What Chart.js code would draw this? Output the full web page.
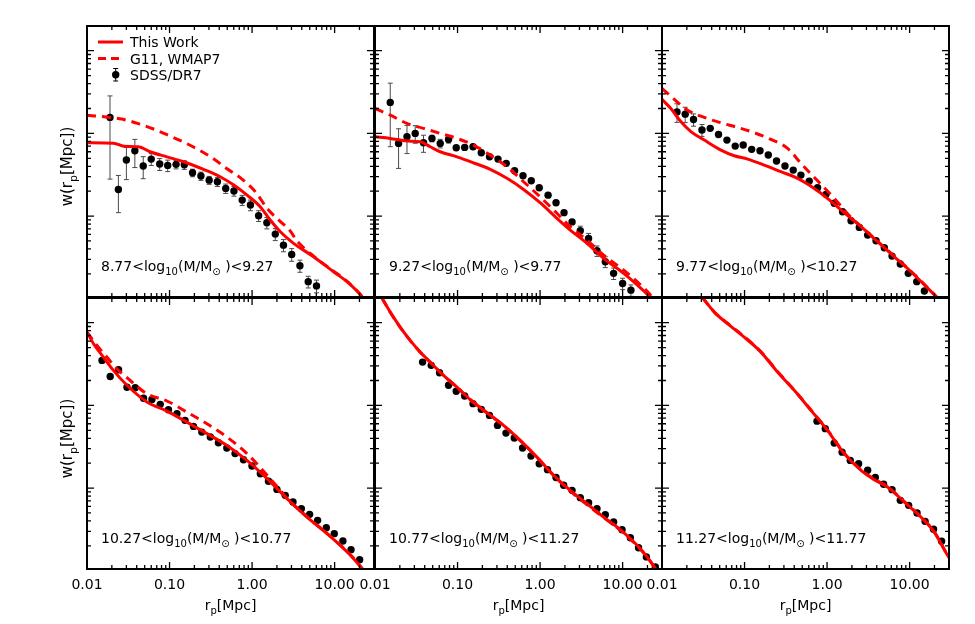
<!DOCTYPE html>
<html>
<head>
<meta charset="utf-8">
<script src="https://cdn.jsdelivr.net/npm/chart.js@4.4.1/dist/chart.umd.min.js"></script>
<style>
  html, body { margin: 0; padding: 0; background: #fff; }
  #wrap { position: relative; width: 975px; height: 624px; }
  #wrap canvas { position: absolute; left: 0; top: 0; }
</style>
</head>
<body>
<div id="wrap">
  <canvas id="c0" width="975" height="624"></canvas>
  <canvas id="c1" width="975" height="624"></canvas>
  <canvas id="c2" width="975" height="624"></canvas>
  <canvas id="c3" width="975" height="624"></canvas>
  <canvas id="c4" width="975" height="624"></canvas>
  <canvas id="c5" width="975" height="624"></canvas>
</div>
<script>
// axis ranges (log-log), same for all panels
const XMIN = 0.01, XMAX = 30;
const YMIN = 1.05, YMAX = 1990;

const massBins = [['8.77', '9.27'], ['9.27', '9.77'], ['9.77', '10.27'],
                  ['10.27', '10.77'], ['10.77', '11.27'], ['11.27', '11.77']];

// ---- SDSS/DR7 points: r_p, w, error ----
const p1R = [0.019, 0.024, 0.030, 0.038, 0.048, 0.060, 0.076, 0.095, 0.120, 0.151, 0.190, 0.240, 0.302, 0.380, 0.479, 0.603, 0.759, 0.955, 1.20, 1.51, 1.91, 2.40, 3.02, 3.80, 4.79, 6.03];
const p1W = [156, 21.0, 47.6, 61.6, 40.3, 48.9, 42.6, 41.0, 42.2, 41.7, 33.4, 30.5, 27.2, 26.0, 21.6, 20.1, 15.6, 13.6, 10.1, 8.3, 6.05, 4.45, 3.44, 2.51, 1.61, 1.43];
const p1E = [128, 10, 20, 23, 12, 8, 7, 6.5, 5, 5, 3.5, 3.5, 3, 3.2, 2.8, 2.7, 2.2, 2.0, 1.5, 1.3, 1.0, 0.75, 0.6, 0.42, 0.26, 0.25];

const p2R = [0.0153, 0.0193, 0.0244, 0.0307, 0.0387, 0.0490, 0.0617, 0.0778, 0.0964, 0.122, 0.154, 0.194, 0.244, 0.309, 0.389, 0.491, 0.621, 0.782, 0.977, 1.25, 1.56, 1.95, 2.44, 3.07, 3.87, 4.89, 6.17, 7.78, 10.0, 12.6];
const p2W = [237, 75.7, 91, 100, 77, 87, 75.7, 84.5, 67, 67.7, 68.9, 58.3, 52.1, 48.9, 43.4, 35.3, 30.7, 26.7, 22.0, 17.9, 14.5, 11.0, 8.5, 6.64, 5.37, 3.80, 2.80, 2.03, 1.53, 1.27];
const p2E = [168, 38, 34, 24, 18, 8, 9, 8, 4, 4, 4, 3, 3, 2.5, 2.2, 1.8, 1.5, 1.3, 1.1, 0.9, 0.75, 0.6, 0.5, 0.9, 0.8, 0.55, 0.42, 0.32, 0.24, 0.2];

const p3R = [0.0152, 0.0191, 0.0241, 0.0305, 0.0384, 0.0484, 0.0612, 0.0771, 0.0964, 0.122, 0.154, 0.194, 0.244, 0.309, 0.389, 0.482, 0.608, 0.767, 0.970, 1.22, 1.54, 1.95, 2.46, 3.10, 3.92, 4.93, 6.12, 7.71, 9.64, 12.2, 15.1];
const p3W = [182, 171, 147, 110, 115, 97, 83, 70.2, 72.3, 64.1, 61.6, 54.7, 46.3, 40.3, 36.0, 31.3, 26.5, 22.0, 18.3, 14.3, 11.3, 8.77, 7.29, 5.89, 5.02, 4.14, 3.28, 2.63, 2.03, 1.61, 1.24];
const p3E = [46, 36, 25, 18, 6, 4, 3, 2.5, 2.5, 2, 2, 1.6, 1.3, 1.1, 1.0, 0.8, 0.7, 0.6, 0.5, 0.4, 0.3, 0.25, 0.2, 0.17, 0.15, 0.13, 0.11, 0.09, 0.08, 0.07, 0.06];

const p4R = [0.0152, 0.0191, 0.0241, 0.0305, 0.0384, 0.0484, 0.0612, 0.0771, 0.0970, 0.123, 0.154, 0.195, 0.246, 0.312, 0.391, 0.494, 0.622, 0.787, 0.997, 1.26, 1.58, 2.00, 2.52, 3.13, 3.95, 4.98, 6.22, 7.93, 9.9, 12.6, 15.8, 20.1];
const p4W = [350, 224, 270, 166, 164, 122, 118, 103, 88.7, 79.4, 65.9, 55.7, 47.5, 41.4, 35.4, 30.5, 26.1, 22.0, 18.5, 14.9, 12.1, 9.64, 8.16, 6.78, 5.64, 4.81, 4.07, 3.32, 2.81, 2.29, 1.80, 1.36];
const p4E = [8, 5, 6, 3.5, 3, 2.2, 2, 1.7, 1.4, 1.2, 1.0, 0.8, 0.7, 0.6, 0.5, 0.45, 0.4, 0.35, 0.3, 0.25, 0.2, 0.17, 0.15, 0.13, 0.11, 0.1, 0.09, 0.08, 0.07, 0.06, 0.05, 0.04];

const p5R = [0.0377, 0.048, 0.0605, 0.0778, 0.0964, 0.122, 0.154, 0.194, 0.244, 0.305, 0.386, 0.487, 0.614, 0.776, 0.977, 1.23, 1.56, 1.93, 2.44, 3.07, 3.87, 4.89, 6.17, 7.78, 9.84, 12.4, 15.6, 19.4, 24.9];
const p5W = [334, 305, 248, 175, 148, 130, 105, 89.5, 75.7, 57.3, 46.2, 40.3, 30.5, 24.4, 19.7, 16.7, 13.4, 10.8, 9.38, 7.66, 6.66, 5.64, 4.77, 3.88, 3.14, 2.51, 1.90, 1.47, 1.11];
const p5E = [8, 7, 5, 3.5, 3, 2.5, 2, 1.7, 1.4, 1.1, 0.9, 0.8, 0.6, 0.5, 0.4, 0.35, 0.3, 0.25, 0.2, 0.17, 0.15, 0.13, 0.11, 0.09, 0.08, 0.07, 0.06, 0.05, 0.04];

const p6R = [0.755, 0.951, 1.22, 1.52, 1.91, 2.41, 3.10, 3.84, 4.84, 6.12, 7.71, 9.73, 12.3, 15.4, 19.5, 24.4];
const p6W = [64.5, 52.3, 35.0, 27.2, 21.6, 19.7, 16.4, 13.4, 11.1, 9.57, 7.10, 6.18, 4.99, 3.96, 3.17, 2.27];
const p6E = [1.5, 1.2, 0.8, 0.6, 0.5, 0.45, 0.4, 0.3, 0.25, 0.22, 0.17, 0.15, 0.12, 0.1, 0.08, 0.06];

// ---- "This Work" model curves ----
const p1WorkR = [0.010, 0.021, 0.028, 0.042, 0.058, 0.093, 0.148, 0.258, 0.41, 0.60, 0.87, 1.26, 1.66, 2.20, 3.18, 5.56, 9.7, 14.1, 21.5, 24];
const p1WorkW = [77, 76, 70, 69, 60, 52, 45.4, 36.7, 29.9, 23.7, 17.9, 12.9, 8.95, 6.46, 4.68, 3.22, 2.12, 1.61, 1.06, 0.9];
const p2WorkR = [0.010, 0.0153, 0.0244, 0.0353, 0.0467, 0.0617, 0.0984, 0.156, 0.249, 0.397, 0.631, 1.0, 1.60, 2.32, 3.70, 5.89, 10.3, 15.0, 21.7, 24];
const p2WorkW = [91, 87, 80.7, 79, 68.9, 60, 52.1, 44.1, 36.7, 28.6, 21.0, 14.5, 9.4, 6.78, 4.68, 3.08, 2.03, 1.47, 1.04, 0.92];
const p3WorkR = [0.010, 0.0128, 0.0170, 0.0224, 0.0325, 0.0518, 0.075, 0.109, 0.173, 0.276, 0.439, 0.700, 1.01, 1.61, 2.58, 4.10, 6.53, 10.4, 15.1, 20.9, 24];
const p3WorkW = [258, 200, 138, 105, 83, 62.8, 53.6, 48.9, 41.4, 34.4, 28.6, 21.6, 16.4, 11.0, 7.43, 4.89, 3.22, 2.12, 1.47, 1.06, 0.9];
const p4WorkR = [0.010, 0.0120, 0.0158, 0.0209, 0.0305, 0.0532, 0.0929, 0.162, 0.284, 0.496, 0.867, 1.52, 2.65, 4.63, 8.09, 12.9, 17.0, 21.5, 24];
const p4WorkW = [769, 557, 384, 265, 175, 110, 85.4, 62.8, 45.5, 32.8, 21.6, 13.0, 7.45, 4.46, 2.81, 1.85, 1.40, 1.06, 0.92];
const p5WorkR = [0.0121, 0.0153, 0.0202, 0.0267, 0.0353, 0.0467, 0.0676, 0.0984, 0.143, 0.227, 0.361, 0.575, 0.916, 1.46, 2.32, 3.70, 5.89, 9.37, 15.0, 19.8, 26.1];
const p5WorkW = [2005, 1343, 885, 611, 441, 334, 231, 166, 117, 81.6, 57.3, 37.7, 23.7, 14.3, 9.38, 6.47, 4.46, 3.14, 2.03, 1.47, 1.0];
const p6WorkR = [0.031, 0.043, 0.0622, 0.099, 0.158, 0.251, 0.400, 0.638, 1.01, 1.61, 2.58, 3.74, 5.40, 8.63, 13.7, 19.9, 28.9, 30.5];
const p6WorkW = [2005, 1343, 973, 670, 441, 253, 152, 87, 49.9, 26.1, 16.4, 12.6, 10.3, 6.78, 4.46, 2.94, 1.53, 1.42];

// ---- G11, WMAP7 curves ----
const p1G11R = [0.010, 0.019, 0.0265, 0.042, 0.064, 0.100, 0.151, 0.229, 0.341, 0.497, 0.755, 1.11, 1.54, 2.14, 2.90, 3.50, 5.56, 9.7, 14.1, 21.5, 24];
const p1G11W = [166, 156, 149, 131, 113, 93.5, 77.8, 62.8, 49.3, 37.3, 28.0, 19.4, 12.2, 8.8, 6.6, 5.0, 3.28, 2.16, 1.63, 1.07, 0.92];
const p2G11R = [0.010, 0.0153, 0.0244, 0.0387, 0.0617, 0.0984, 0.156, 0.249, 0.397, 0.631, 1.0, 1.60, 2.32, 3.70, 5.89, 10.3, 15.0, 21.7, 24];
const p2G11W = [200, 166, 132, 115, 100, 87, 72.3, 54.7, 39.5, 26.0, 17.1, 10.8, 7.43, 5.13, 3.37, 2.22, 1.61, 1.11, 0.97];
const p3G11R = [0.010, 0.0141, 0.0204, 0.0325, 0.0518, 0.0822, 0.131, 0.209, 0.332, 0.482, 0.767, 1.22, 1.95, 2.58, 4.10, 6.53, 10.4, 15.1, 20.9, 24];
const p3G11W = [350, 258, 191, 156, 134, 118, 102, 84.5, 65.9, 43.4, 26.7, 16.4, 9.64, 7.5, 4.95, 3.26, 2.15, 1.49, 1.07, 0.92];
const p4G11R = [0.010, 0.0132, 0.0174, 0.0230, 0.0334, 0.0532, 0.0929, 0.162, 0.284, 0.496, 0.867, 1.52, 2.20, 2.65, 4.63, 8.09, 12.9, 17.0, 21.5, 24];
const p4G11W = [769, 532, 384, 278, 200, 138, 113, 83, 60, 41.4, 26.1, 14.3, 9.4, 7.5, 4.5, 2.83, 1.87, 1.42, 1.07, 0.93];
const p5G11R = [0.0121, 0.0153, 0.0202, 0.0267, 0.0353, 0.0467, 0.0676, 0.0984, 0.143, 0.227, 0.361, 0.575, 0.916, 1.46, 2.32, 3.70, 5.89, 9.37, 15.0, 19.8, 26.1];
const p5G11W = [2000, 1340, 880, 608, 440, 333, 230, 166, 117, 81, 57, 37.5, 23.5, 14.2, 9.2, 6.3, 4.4, 3.1, 2.0, 1.46, 1.0];
const p6G11R = [0.031, 0.043, 0.0622, 0.099, 0.158, 0.251, 0.400, 0.638, 1.01, 1.61, 2.58, 3.74, 5.40, 8.63, 13.7, 19.9, 28.9, 30.5];
const p6G11W = [2000, 1350, 985, 680, 445, 257, 153, 88, 50.5, 26.5, 16.6, 12.8, 10.4, 6.85, 4.5, 2.96, 1.54, 1.43];

const panels = [
  { r: p1R, w: p1W, e: p1E, workR: p1WorkR, workW: p1WorkW, g11R: p1G11R, g11W: p1G11W },
  { r: p2R, w: p2W, e: p2E, workR: p2WorkR, workW: p2WorkW, g11R: p2G11R, g11W: p2G11W },
  { r: p3R, w: p3W, e: p3E, workR: p3WorkR, workW: p3WorkW, g11R: p3G11R, g11W: p3G11W },
  { r: p4R, w: p4W, e: p4E, workR: p4WorkR, workW: p4WorkW, g11R: p4G11R, g11W: p4G11W },
  { r: p5R, w: p5W, e: p5E, workR: p5WorkR, workW: p5WorkW, g11R: p5G11R, g11W: p5G11W },
  { r: p6R, w: p6W, e: p6E, workR: p6WorkR, workW: p6WorkW, g11R: p6G11R, g11W: p6G11W }
];

// page layout of the 2x3 grid
const W = 975, H = 624;
const colLeft = [87, 375, 662], colWidth = 287;
const rowTop = [26, 298], rowBottom = [297, 569];

const RED = 'rgb(255,0,0)';
const FONT = '"DejaVu Sans"';

const pairs = (xs, ys) => xs.map((x, i) => ({ x: x, y: ys[i] }));
const isDecade = v => { const l = Math.log10(v); return Math.abs(l - Math.round(l)) < 1e-6; };

// text with subscripts; parts are strings or {sub: '...'}
function drawRich(ctx, x, y, parts, size, measureOnly) {
  let cx = x;
  for (const p of parts) {
    const sub = typeof p !== 'string';
    const t = sub ? p.sub : p;
    ctx.font = (sub ? Math.round(size * 0.72) : size) + 'px ' + FONT;
    if (!measureOnly) ctx.fillText(t, cx, sub ? y + size * 0.3 : y);
    cx += ctx.measureText(t).width;
  }
  return cx - x;
}

function errorBar(ctx, x, y1, y2, cap) {
  ctx.beginPath();
  ctx.moveTo(x, y1); ctx.lineTo(x, y2);
  ctx.moveTo(x - cap, y1); ctx.lineTo(x + cap, y1);
  ctx.moveTo(x - cap, y2); ctx.lineTo(x + cap, y2);
  ctx.stroke();
}

function makeDecor(idx) {
  const row = idx < 3 ? 0 : 1, col = idx % 3;
  const d = panels[idx];
  return {
    id: 'decor' + idx,
    beforeDatasetsDraw(chart) {
      const ctx = chart.ctx, xs = chart.scales.x, ys = chart.scales.y, a = chart.chartArea;
      ctx.save();
      ctx.beginPath();
      ctx.rect(a.left, a.top, a.right - a.left, a.bottom - a.top);
      ctx.clip();
      ctx.strokeStyle = '#4a4a4a';
      ctx.lineWidth = 1;
      d.r.forEach((r, i) => {
        const px = xs.getPixelForValue(r);
        const lo = d.w[i] - d.e[i];
        const y1 = lo > 0 ? ys.getPixelForValue(lo) : a.bottom;
        const y2 = ys.getPixelForValue(d.w[i] + d.e[i]);
        errorBar(ctx, px, y1, y2, 2.5);
      });
      ctx.restore();
    },
    afterDraw(chart) {
      const ctx = chart.ctx, xs = chart.scales.x, ys = chart.scales.y, a = chart.chartArea;
      ctx.save();
      // frame
      ctx.strokeStyle = '#000';
      ctx.lineWidth = 2;
      ctx.strokeRect(a.left, a.top, a.right - a.left, a.bottom - a.top);
      // inward log ticks on all four sides
      ctx.lineWidth = 1.3;
      ctx.beginPath();
      for (let e = -2; e <= 2; e++) {
        for (let k = 1; k <= 9; k++) {
          const v = k * Math.pow(10, e);
          if (v < XMIN * 0.999 || v > XMAX * 1.001) continue;
          const px = xs.getPixelForValue(v), len = k === 1 ? 7 : 4;
          ctx.moveTo(px, a.bottom); ctx.lineTo(px, a.bottom - len);
          ctx.moveTo(px, a.top); ctx.lineTo(px, a.top + len);
        }
      }
      for (let e = 0; e <= 3; e++) {
        for (let k = 1; k <= 9; k++) {
          const v = k * Math.pow(10, e);
          if (v < YMIN || v > YMAX) continue;
          const py = ys.getPixelForValue(v), len = k === 1 ? 7 : 4;
          ctx.moveTo(a.left, py); ctx.lineTo(a.left + len, py);
          ctx.moveTo(a.right, py); ctx.lineTo(a.right - len, py);
        }
      }
      ctx.stroke();

      // mass-bin label
      ctx.fillStyle = '#000';
      ctx.textAlign = 'left';
      ctx.textBaseline = 'alphabetic';
      const [lo, hi] = massBins[idx];
      drawRich(ctx, a.left + 14, a.bottom - 26,
        [lo + '<log', { sub: '10' }, '(M/M', { sub: '\u2299' }, ' )<' + hi], 14);

      // x title under bottom row
      if (row === 1) {
        const parts = ['r', { sub: 'p' }, '[Mpc]'];
        const tw = drawRich(ctx, 0, 0, parts, 14, true);
        drawRich(ctx, (a.left + a.right) / 2 - tw / 2, 610, parts, 14);
      }
      // y title left of first column
      if (col === 0) {
        const parts = ['w(r', { sub: 'p' }, '[Mpc])'];
        const tw = drawRich(ctx, 0, 0, parts, 15, true);
        ctx.save();
        ctx.translate(72, (a.top + a.bottom) / 2 + 5);
        ctx.rotate(-Math.PI / 2);
        drawRich(ctx, -tw / 2, 0, parts, 15);
        ctx.restore();
      }

      // legend in first panel
      if (idx === 0) {
        ctx.strokeStyle = RED;
        ctx.lineWidth = 3;
        ctx.beginPath(); ctx.moveTo(98, 42); ctx.lineTo(123, 42); ctx.stroke();
        ctx.setLineDash([8, 5]);
        ctx.beginPath(); ctx.moveTo(98, 58.5); ctx.lineTo(123, 58.5); ctx.stroke();
        ctx.setLineDash([]);
        ctx.strokeStyle = '#000';
        ctx.lineWidth = 1;
        errorBar(ctx, 115.7, 68.5, 81, 2.5);
        ctx.fillStyle = '#000';
        ctx.beginPath(); ctx.arc(115.7, 74.7, 3.7, 0, Math.PI * 2); ctx.fill();
        ctx.font = '14px ' + FONT;
        ctx.fillText('This Work', 130, 47);
        ctx.fillText('G11, WMAP7', 130, 63.5);
        ctx.fillText('SDSS/DR7', 130, 80);
      }
      ctx.restore();
    }
  };
}

panels.forEach((d, idx) => {
  const row = idx < 3 ? 0 : 1, col = idx % 3;
  const left = colLeft[col], right = left + colWidth;
  const showX = row === 1;
  new Chart(document.getElementById('c' + idx), {
    type: 'scatter',
    data: {
      datasets: [
        {
          type: 'line', label: 'This Work', data: pairs(d.workR, d.workW),
          borderColor: RED, borderWidth: 3, pointRadius: 0, fill: false,
          cubicInterpolationMode: 'monotone', clip: 0
        },
        {
          type: 'line', label: 'G11, WMAP7', data: pairs(d.g11R, d.g11W),
          borderColor: RED, borderWidth: 3, borderDash: [9, 6], pointRadius: 0, fill: false,
          cubicInterpolationMode: 'monotone', clip: 0
        },
        {
          type: 'scatter', label: 'SDSS/DR7', data: pairs(d.r, d.w),
          backgroundColor: '#000', borderWidth: 0, pointRadius: 3.7, pointHoverRadius: 3.7
        }
      ]
    },
    options: {
      responsive: false,
      animation: false,
      devicePixelRatio: 1,
      events: [],
      layout: {
        padding: {
          left: left, right: W - right, top: rowTop[row],
          bottom: showX ? 0 : H - rowBottom[row]
        }
      },
      plugins: {
        legend: { display: false },
        title: { display: false },
        tooltip: { enabled: false }
      },
      scales: {
        x: {
          type: 'logarithmic', min: XMIN, max: XMAX, display: showX,
          grid: { display: false, drawTicks: false },
          border: { display: false },
          ticks: {
            autoSkip: false, maxRotation: 0, padding: 8, color: '#000',
            font: { family: 'DejaVu Sans', size: 14 },
            callback: v => isDecade(v) ? Number(v).toFixed(2) : ''
          },
          afterFit: s => { if (showX) s.height = H - rowBottom[1]; }
        },
        y: { type: 'logarithmic', min: YMIN, max: YMAX, display: false }
      }
    },
    plugins: [makeDecor(idx)]
  });
});
</script>
</body>
</html>
